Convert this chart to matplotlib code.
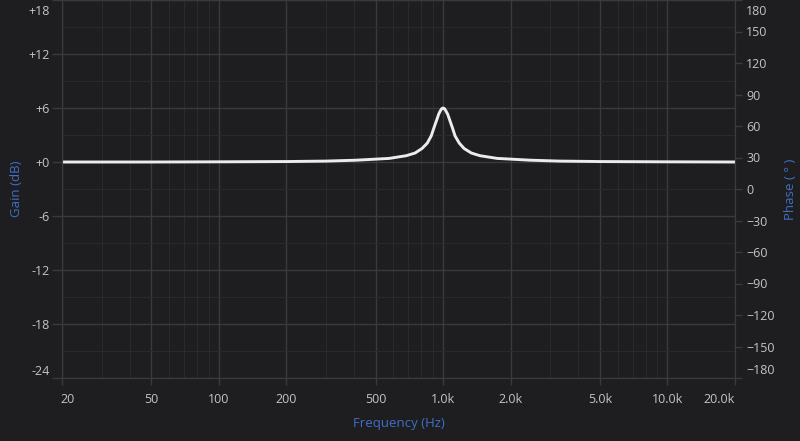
import matplotlib.pyplot as plt
import matplotlib.transforms as mtransforms
from matplotlib.ticker import FixedLocator, FixedFormatter, NullFormatter

# Gain response (peak at 1 kHz)
freq_hz = [20, 50, 100, 200, 300, 410, 575, 685, 750, 805, 850, 885, 910, 940, 955, 970,
           985, 1000, 1015, 1030, 1048, 1065, 1100, 1130, 1180, 1240, 1335, 1460, 1740,
           2450, 3300, 5000, 10000, 20000]
gain_db = [0.0, 0.0, 0.02, 0.05, 0.1, 0.2, 0.4, 0.7, 1.0, 1.5, 2.1, 2.9, 3.8, 4.8, 5.3, 5.65,
           5.92, 6.0, 5.92, 5.65, 5.3, 4.8, 3.8, 2.9, 2.1, 1.5, 1.0, 0.7, 0.4,
           0.2, 0.1, 0.05, 0.02, 0.0]

freq_ticks = [20, 50, 100, 200, 500, 1000, 2000, 5000, 10000, 20000]
freq_labels = ["20", "50", "100", "200", "500", "1.0k", "2.0k", "5.0k", "10.0k", "20.0k"]
freq_minor = [30, 40, 60, 70, 80, 90, 300, 400, 600, 700, 800, 900,
              3000, 4000, 6000, 7000, 8000, 9000]
gain_ticks = [-24, -18, -12, -6, 0, 6, 12, 18]
gain_labels = ["-24", "-18", "-12", "-6", "+0", "+6", "+12", "+18"]
gain_minor = [-21, -15, -9, -3, 3, 9, 15]
phase_ticks = [-180, -150, -120, -90, -60, -30, 0, 30, 60, 90, 120, 150, 180]

BG = "#1e1e20"
MAJOR = "#3a3a3c"
MINOR = "#2a2a2c"
TEXT = "#c4c4c4"
BLUE = "#3f6fc8"

plt.rcParams["font.family"] = ["Open Sans", "DejaVu Sans"]

fig = plt.figure(figsize=(8, 4.41), dpi=100, facecolor=BG)
ax = fig.add_axes([62 / 800, 63 / 441, 673 / 800, 378 / 441])
ax.set_facecolor(BG)

ax.set_xscale("log")
ax.set_xlim(20, 20000)
ax.set_ylim(-24, 18)

ax.xaxis.set_major_locator(FixedLocator(freq_ticks))
ax.xaxis.set_major_formatter(FixedFormatter(freq_labels))
ax.xaxis.set_minor_locator(FixedLocator(freq_minor))
ax.xaxis.set_minor_formatter(NullFormatter())
ax.yaxis.set_major_locator(FixedLocator(gain_ticks))
ax.yaxis.set_major_formatter(FixedFormatter(gain_labels))
ax.yaxis.set_minor_locator(FixedLocator(gain_minor))

ax.grid(True, which="major", color=MAJOR, linewidth=1.0)
ax.grid(True, which="minor", color=MINOR, linewidth=0.8)
ax.set_axisbelow(True)

ax.tick_params(axis="x", which="major", colors=TEXT, labelsize=9,
               length=5, width=1, pad=6, color=MAJOR)
ax.tick_params(axis="y", which="major", colors=TEXT, labelsize=9,
               length=7, width=1, pad=2, color=MAJOR)
ax.tick_params(which="minor", length=0)
for side in ax.spines.values():
    side.set_color(MAJOR)

ax.plot(freq_hz, gain_db, color="#ececec", linewidth=2.1, solid_capstyle="butt",
        solid_joinstyle="round", zorder=5, clip_on=False)

ax.set_xlabel("Frequency (Hz)", color=BLUE, fontsize=9.5, labelpad=8)
ax.set_ylabel("Gain (dB)", color=BLUE, fontsize=9.5, labelpad=4)

# phase axis on the right
ax2 = ax.twinx()
ax2.set_ylim(-180, 180)
ax2.yaxis.set_major_locator(FixedLocator(phase_ticks))
ax2.tick_params(axis="y", colors=TEXT, labelsize=9, length=5, width=1, pad=3,
                color=MAJOR)
for side in ax2.spines.values():
    side.set_color(MAJOR)
ax2.set_ylabel("Phase ( ° )", color=BLUE, fontsize=9.5, labelpad=7)


def shift(label, dx, dy):
    off = mtransforms.ScaledTranslation(dx / 100, dy / 100, fig.dpi_scale_trans)
    label.set_transform(label.get_transform() + off)


# keep the end labels inside the plot box, like the reference
xt = ax.xaxis.get_major_ticks()
shift(xt[0].label1, 6, 0)
shift(xt[-1].label1, -16, 0)
yt = ax.yaxis.get_major_ticks()
shift(yt[0].label1, 0, 8)
shift(yt[-1].label1, 0, -10)
pt = ax2.yaxis.get_major_ticks()
shift(pt[0].label2, 0, 9)
shift(pt[-1].label2, 0, -10)

fig.savefig("out.png", dpi=100, facecolor=BG)
